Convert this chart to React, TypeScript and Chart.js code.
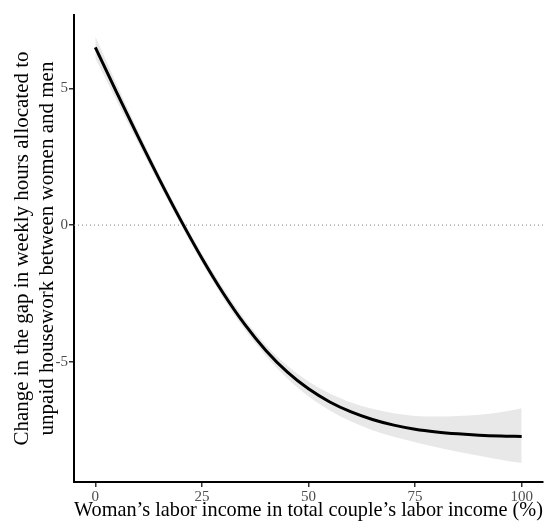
import { useEffect, useRef } from 'react';
import { Chart, registerables } from 'chart.js';

Chart.register(...registerables);

const xValues = [0, 5, 10, 15, 20, 25, 30, 35, 40, 45, 50, 55, 60, 65, 70, 75, 80, 85, 90, 95, 100];
const fitValues = [6.5, 4.85, 3.24, 1.68, 0.19, -1.21, -2.49, -3.62, -4.58, -5.365, -5.985, -6.465, -6.83, -7.105, -7.31, -7.46, -7.56, -7.63, -7.68, -7.71, -7.725];
const ciUpper = [6.9, 5.15, 3.46, 1.86, 0.36, -1.04, -2.31, -3.43, -4.38, -5.135, -5.715, -6.155, -6.48, -6.715, -6.88, -6.98, -7.0, -6.98, -6.93, -6.84, -6.69];
const ciLower = [6.1, 4.55, 3.02, 1.5, 0.02, -1.38, -2.67, -3.81, -4.78, -5.595, -6.255, -6.775, -7.18, -7.495, -7.74, -7.94, -8.12, -8.28, -8.43, -8.58, -8.7];
const xTicks = [0, 25, 50, 75, 100];
const yTicks = [-5, 0, 5];
const referenceY = 0;
const xTitle = 'Woman’s labor income in total couple’s labor income (%)';
const yTitle = ['Change in the gap in weekly hours allocated to', 'unpaid housework between women and men'];
const X_MIN = -5;
const X_MAX = 105;
const Y_MIN = -9.39;
const Y_MAX = 7.68;

const FONT = 'Liberation Serif';

export default function App() {
  const ref = useRef<HTMLCanvasElement | null>(null);

  useEffect(() => {
    if (!ref.current) return;
    const pts = (ys: number[]) => xValues.map((x, i) => ({ x, y: ys[i] }));
    const chart = new Chart(ref.current, {
      type: 'line',
      data: {
        datasets: [
          {
            data: pts(ciUpper),
            borderWidth: 0,
            borderColor: 'rgba(0,0,0,0)',
            pointRadius: 0,
            fill: false,
            cubicInterpolationMode: 'monotone',
            order: 3,
          },
          {
            data: pts(ciLower),
            borderWidth: 0,
            borderColor: 'rgba(0,0,0,0)',
            backgroundColor: 'rgb(232,232,232)',
            pointRadius: 0,
            fill: '-1',
            cubicInterpolationMode: 'monotone',
            order: 3,
          },
          {
            data: [
              { x: X_MIN, y: referenceY },
              { x: X_MAX, y: referenceY },
            ],
            borderColor: '#7f7f7f',
            borderWidth: 1,
            borderDash: [1, 3],
            pointRadius: 0,
            fill: false,
            order: 2,
          },
          {
            data: pts(fitValues),
            borderColor: '#000000',
            borderWidth: 3,
            pointRadius: 0,
            fill: false,
            cubicInterpolationMode: 'monotone',
            order: 1,
          },
        ],
      },
      options: {
        responsive: false,
        animation: false,
        events: [],
        layout: { padding: { top: 15, right: 10, left: 0, bottom: 0 } },
        plugins: { legend: { display: false }, tooltip: { enabled: false } },
        scales: {
          x: {
            type: 'linear',
            min: X_MIN,
            max: X_MAX,
            afterBuildTicks: (s: any) => {
              s.ticks = xTicks.map((v) => ({ value: v }));
            },
            afterFit: (s: any) => {
              s.height = 43;
            },
            ticks: {
              color: '#4d4d4d',
              font: { family: FONT, size: 15 },
              padding: 1,
              maxRotation: 0,
              autoSkip: false,
              callback: (v: any) => String(v),
            },
            grid: {
              drawOnChartArea: false,
              drawTicks: true,
              tickLength: 5,
              color: '#333333',
              lineWidth: 1.5,
            },
            border: { display: true, color: '#000000', width: 2 },
            title: {
              display: true,
              text: xTitle,
              color: '#000000',
              font: { family: FONT, size: 21, lineHeight: 1.2 },
              padding: { top: 0, bottom: 1.5 },
            },
          },
          y: {
            type: 'linear',
            min: Y_MIN,
            max: Y_MAX,
            afterBuildTicks: (s: any) => {
              s.ticks = yTicks.map((v) => ({ value: v }));
            },
            afterFit: (s: any) => {
              s.width = 74;
            },
            ticks: {
              color: '#4d4d4d',
              font: { family: FONT, size: 15 },
              padding: 1,
              autoSkip: false,
              callback: (v: any) => String(v),
            },
            grid: {
              drawOnChartArea: false,
              drawTicks: true,
              tickLength: 5,
              color: '#333333',
              lineWidth: 1.5,
            },
            border: { display: true, color: '#000000', width: 2 },
            title: {
              display: true,
              text: yTitle,
              color: '#000000',
              font: { family: FONT, size: 21, lineHeight: '25px' },
              padding: { top: 10, bottom: 0 },
            },
          },
        },
      },
    } as any);
    return () => chart.destroy();
  }, []);

  return (
    <canvas
      ref={ref}
      width={553}
      height={525}
      style={{ position: 'absolute', left: 0, top: 0, width: 553, height: 525 }}
    />
  );
}
